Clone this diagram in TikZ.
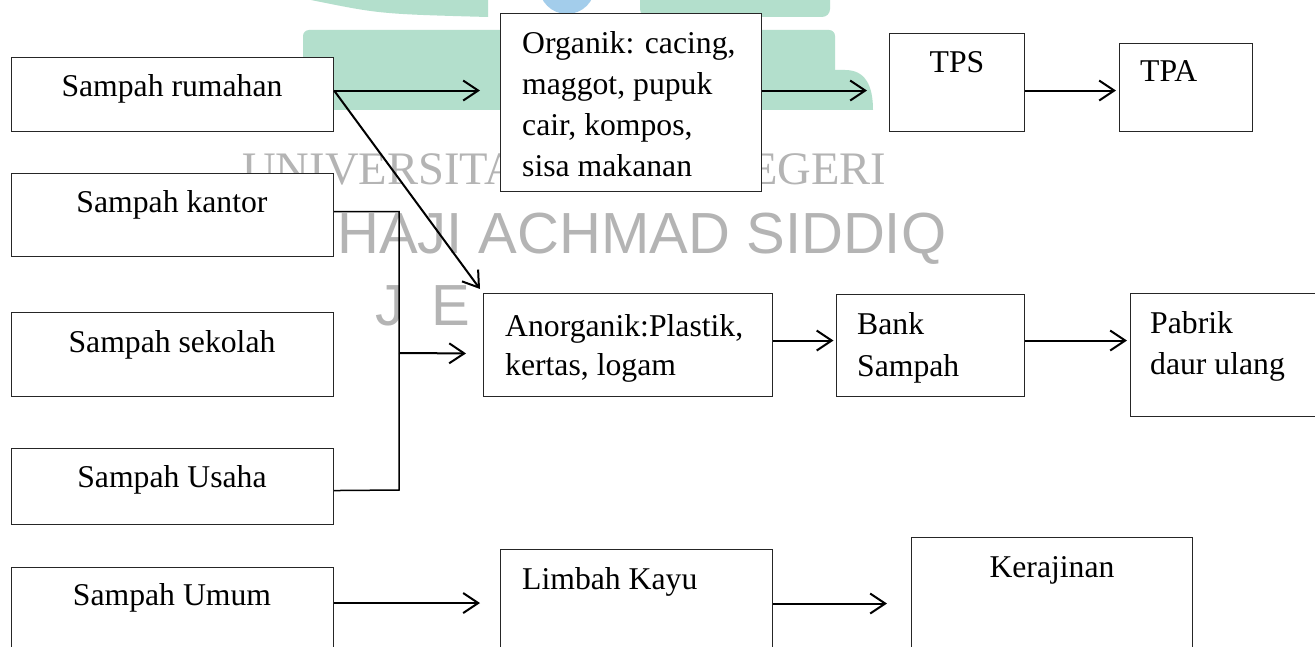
\documentclass[tikz,border=0pt]{standalone}
\usepackage{fontspec}
\setmainfont{Liberation Serif}
\newfontfamily\wmsans{Liberation Sans}
\usetikzlibrary{arrows.meta}
\definecolor{wmgray}{HTML}{B4B4B4}
\definecolor{wmgreen}{HTML}{B3DFCC}
\definecolor{wmblue}{HTML}{A3CDEB}
\begin{document}
\begin{tikzpicture}[x=1pt,y=-1pt,
  box/.style={draw=black!85, line width=1.1pt, fill=white, inner sep=0pt, anchor=north west},
  lbl/.style={inner sep=0pt, font=\fontsize{31.7}{41}\selectfont},
  flow/.style={line width=2pt, -{Straight Barb[length=15pt,width=20pt,line width=2pt]}},
  link/.style={line width=1.5pt, line join=miter},
  wmserif/.style={inner sep=0pt, text=wmgray, font=\fontsize{46.6}{50}\selectfont},
  wmsansst/.style={inner sep=0pt, text=wmgray, font=\wmsans\fontsize{58}{60}\selectfont}
]
\clip (0,0) rectangle (1315,647);
\fill[white] (0,0) rectangle (1315,647);
% watermark (background)
\fill[wmblue] (567,-14) circle[radius=28pt];
\fill[wmgreen] (311,0) .. controls (380,14) .. (488,17) -- (488,0) -- cycle;
\fill[wmgreen, rounded corners=8pt] (640,-10) rectangle (830,17);
\fill[wmgreen, rounded corners=6pt] (303,30) rectangle (835,110);
\fill[wmgreen] (820,110) -- (820,70) -- (845,70) .. controls (865,70) and (873,85) .. (873,110) -- cycle;
\node[wmserif, anchor=base west] (wmA) at (242,185) {UNIVERSITA};
\node[wmserif, anchor=base west] (wmA2) at (749,185) {EGERI};
\node[wmsansst, anchor=base west] (wmB) at (337,254) {HAJI ACHMAD SIDDIQ};
\node[wmsansst, anchor=base west] (wmC) at (375,325) {J\hspace{27pt}E};

% boxes
\node[box, minimum width=322pt, minimum height=74pt]  (rum) at (11,57) {};
\node[box, minimum width=322pt, minimum height=83pt]  (kan) at (11,173) {};
\node[box, minimum width=322pt, minimum height=84pt]  (sek) at (11,312) {};
\node[box, minimum width=322pt, minimum height=76pt]  (usa) at (11,448) {};
\node[box, minimum width=322pt, minimum height=100pt] (umu) at (11,567) {};
\node[box, minimum width=261pt, minimum height=178pt] (org) at (500,13) {};
\node[box, minimum width=135pt, minimum height=98pt]  (tps) at (889,33) {};
\node[box, minimum width=133pt, minimum height=88pt]  (tpa) at (1119,43) {};
\node[box, minimum width=289pt, minimum height=103pt] (ano) at (483,293) {};
\node[box, minimum width=188pt, minimum height=102pt] (bnk) at (836,294) {};
\node[box, minimum width=200pt, minimum height=123pt] (pab) at (1130,293) {};
\node[box, minimum width=272pt, minimum height=120pt] (lim) at (500,549) {};
\node[box, minimum width=281pt, minimum height=130pt] (ker) at (911,537) {};

% texts
\node[lbl, anchor=base] (rumT) at (172,97) {Sampah rumahan};
\node[lbl, anchor=base] (kanT) at (172,213) {Sampah kantor};
\node[lbl, anchor=base] (sekT) at (172,352) {Sampah sekolah};
\node[lbl, anchor=base] (usaT) at (172,487) {Sampah Usaha};
\node[lbl, anchor=base] (umuT) at (172,605) {Sampah Umum};
\node[lbl, anchor=base west] (orgT1) at (522,54) {Organik: cacing,};
\node[lbl, anchor=base west] (orgT2) at (522,95) {maggot, pupuk};
\node[lbl, anchor=base west] (orgT3) at (522,136) {cair, kompos,};
\node[lbl, anchor=base west] (orgT4) at (522,177) {sisa makanan};
\node[lbl, anchor=base] (tpsT) at (957,73) {TPS};
\node[lbl, anchor=base west] (tpaT) at (1140,82) {TPA};
\node[lbl, anchor=base west] (anoT1) at (505,336) {Anorganik:Plastik,};
\node[lbl, anchor=base west] (anoT2) at (505,375) {kertas, logam};
\node[lbl, anchor=base west] (bnkT1) at (857,334) {Bank};
\node[lbl, anchor=base west] (bnkT2) at (857,376) {Sampah};
\node[lbl, anchor=base west] (pabT1) at (1150,333) {Pabrik};
\node[lbl, anchor=base west] (pabT2) at (1150,374) {daur ulang};
\node[lbl, anchor=base west] (limT) at (522,589) {Limbah Kayu};
\node[lbl, anchor=base] (kerT) at (1052,577) {Kerajinan};

% connectors
\coordinate (jn) at (399,353);
\coordinate (jb) at (399,490);
\draw[flow, shorten >=20pt] ([yshift=4pt]rum.east) -- ([yshift=12pt]org.west);
\draw[flow] ([yshift=4pt]rum.east) -- ([xshift=-3pt,yshift=4pt]ano.north west);
\draw[flow, shorten >=22pt] ([yshift=12pt]org.east) -- ([yshift=-8pt]tps.west);
\draw[flow, shorten >=3pt] ([yshift=-8pt]tps.east) -- ([yshift=-3pt]tpa.west);
\draw[link] ([yshift=3.5pt]kan.east) -| (jb) -- ([yshift=-4pt]usa.east);
\draw[flow, shorten >=17pt] (jn) -- ([yshift=-8.5pt]ano.west);
\draw[flow, shorten >=2.5pt] ([yshift=4.5pt]ano.east) -- ([yshift=5pt]bnk.west);
\draw[flow, shorten >=3pt] ([yshift=5pt]bnk.east) -- ([yshift=14.5pt]pab.west);
\draw[flow, shorten >=20pt] ([yshift=14.5pt]umu.east) -- ([yshift=6.5pt]lim.west);
\draw[flow, shorten >=24pt] ([yshift=6pt]lim.east) -- ([yshift=-1pt]ker.west);
\end{tikzpicture}
\end{document}
